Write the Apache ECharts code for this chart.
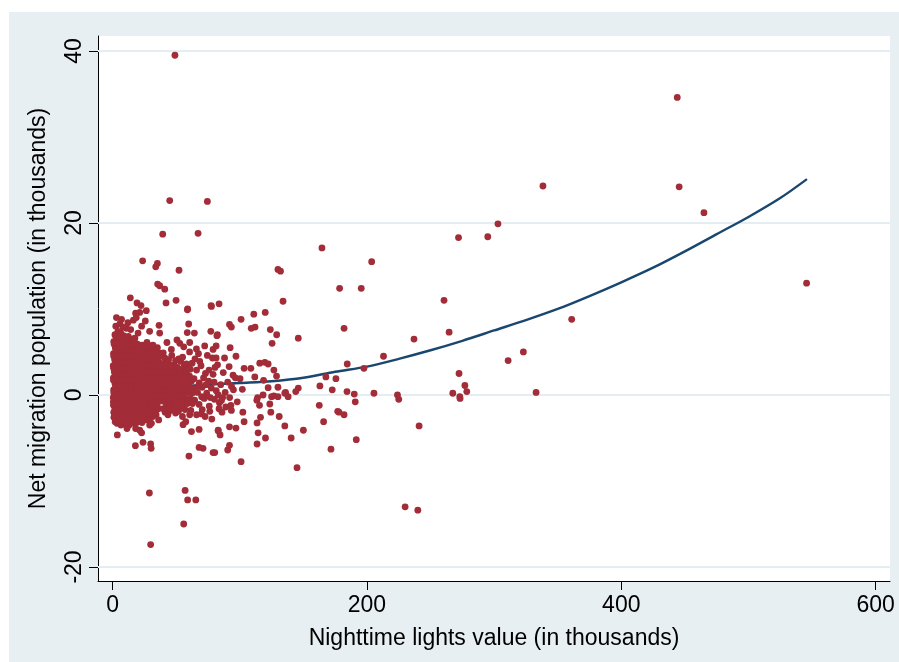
<!DOCTYPE html>
<html><head><meta charset="utf-8">
<script src="https://cdn.jsdelivr.net/npm/echarts@6/dist/echarts.min.js"></script>
<style>html,body{margin:0;padding:0;background:#fff}#c{width:899px;height:662px}</style>
</head><body><div id="c"></div>
<script>
// Tick labels
const xTicks = [0, 200, 400, 600];
const yTicks = [-20, 0, 20, 40];

// [nighttime lights (thousands), net migration (thousands)]
const coreDistricts = [
[4.2,7.4],[6.3,7.25],[10.8,7.75],[14.2,7.6],[1.8,7.0],[8.5,6.9],[12.4,6.8],[16.0,6.5],
[0.9,6.2],[3.6,6.4],[6.8,6.1],[9.7,6.3],[13.1,6.0],[16.4,6.2],
[2.1,5.5],[5.0,5.7],[8.1,5.4],[11.2,5.6],[14.6,5.3],[18.0,5.5],
[0.7,4.8],[3.3,5.0],[6.2,4.7],[9.4,4.9],[12.5,4.6],[15.8,4.8],
[1.6,4.1],[4.7,4.3],[7.6,4.0],[10.6,4.2],[13.9,4.1],[17.2,4.3],
[0.5,3.4],[2.9,3.6],[5.8,3.3],[8.9,3.5],[12.0,3.4],[15.1,3.6],
[1.3,2.7],[4.4,2.9],[7.2,2.6],[10.2,2.8],[13.4,2.7],[16.6,2.9],
[0.6,2.0],[3.1,2.2],[6.0,1.9],[9.1,2.1],[12.3,2.0],[15.5,2.2],
[1.9,1.3],[4.9,1.5],[7.9,1.2],[11.0,1.4],[14.2,1.3],[17.4,1.5],
[0.8,0.6],[3.7,0.8],[6.6,0.5],[9.8,0.7],[13.0,0.6],[16.2,0.8],
[1.5,-0.1],[4.3,0.1],[7.4,-0.2],[10.5,0.0],[13.7,-0.1],[17.0,0.1],
[0.6,-0.8],[3.2,-0.6],[6.1,-0.9],[9.3,-0.7],[12.6,-0.8],[15.9,-0.6],
[1.8,-1.5],[4.8,-1.3],[7.8,-1.6],[11.1,-1.4],[14.4,-1.5],[17.6,-1.3],
[0.9,-2.0],[3.9,-2.2],[6.9,-2.0],[10.0,-2.3],[13.3,-2.1],[16.5,-2.2],
[2.3,-2.7],[5.4,-2.9],[8.6,-2.7],[11.8,-2.8],[15.0,-2.9],[1.0,-2.6],[0.7,-1.2],[0.5,-0.3],
[3.4,-3.3],[6.5,-3.5],[9.6,-3.4],[12.8,-3.5],
[2.5,8.0],[5.8,8.3],[8.0,7.9],[12.0,8.4],[3.0,9.0],[7.0,8.8]
];
const coreInfill = [
[2.7,6.7],[5.5,6.6],[8.2,6.5],[11.6,6.7],[14.8,6.4],[17.5,6.6],
[1.2,5.9],[4.0,6.0],[7.1,5.8],[10.3,5.9],[13.5,5.7],[16.9,5.8],
[2.6,5.2],[5.6,5.3],[8.8,5.1],[11.9,5.2],[15.1,5.0],[18.4,5.1],
[0.9,4.5],[4.0,4.6],[7.0,4.4],[10.1,4.5],[13.2,4.3],[16.5,4.5],
[2.2,3.8],[5.2,3.9],[8.3,3.7],[11.4,3.8],[14.6,3.7],[17.9,3.9],
[0.8,3.1],[3.5,3.2],[6.7,3.0],[9.6,3.1],[12.8,3.0],[16.0,3.2],
[2.0,2.4],[5.1,2.5],[8.1,2.3],[11.3,2.4],[14.5,2.3],[17.7,2.5],
[0.7,1.7],[3.6,1.8],[6.8,1.6],[10.1,1.7],[13.2,1.6],[16.3,1.8],
[2.4,1.0],[5.4,1.1],[8.5,0.9],[11.6,1.0],[14.9,0.9],[18.0,1.1],
[0.9,0.3],[3.0,0.4],[6.0,0.2],[9.0,0.3],[12.1,0.2],[15.3,0.4],
[2.2,-0.4],[5.5,-0.3],[8.5,-0.5],[11.7,-0.4],[14.9,-0.5],[18.2,-0.3],
[1.1,-1.1],[4.1,-1.0],[7.0,-1.2],[10.2,-1.1],[13.4,-1.2],[16.7,-1.0],
[2.5,-1.8],[5.7,-1.7],[8.9,-1.9],[12.0,-1.8],[15.2,-1.9],[18.3,-1.7],
[1.5,-2.4],[4.6,-2.5],[7.6,-2.3],[10.9,-2.5],[14.1,-2.4],[17.3,-2.6],
[2.0,-3.1],[5.0,-3.2],[8.0,-3.0],[11.0,-3.2],[14.0,-3.1],[16.8,-3.3]
];
const innerRing = [
[19.5,5.9],[23.2,5.8],[27.0,6.1],[30.5,5.7],
[18.7,5.1],[22.1,5.3],[25.8,5.0],[29.4,5.2],[33.1,5.1],[36.5,4.9],
[20.3,4.4],[23.9,4.6],[27.6,4.3],[31.2,4.5],[34.8,4.4],
[18.5,3.7],[22.0,3.9],[25.5,3.6],[29.0,3.8],[32.6,3.7],[36.2,3.9],
[20.1,3.0],[23.6,3.2],[27.2,2.9],[30.8,3.1],[34.4,3.0],[38.0,3.2],
[18.9,2.3],[22.4,2.5],[26.0,2.2],[29.6,2.4],[33.2,2.3],[36.9,2.5],
[20.6,1.6],[24.2,1.8],[27.8,1.5],[31.4,1.7],[35.0,1.6],[38.6,1.8],
[18.3,0.9],[21.8,1.1],[25.4,0.8],[29.0,1.0],[32.7,0.9],[36.4,1.1],
[20.0,0.2],[23.5,0.4],[27.1,0.1],[30.7,0.3],[34.3,0.2],[38.1,0.4],
[18.6,-0.5],[22.2,-0.3],[25.8,-0.6],[29.4,-0.4],[33.0,-0.5],[36.7,-0.3],
[20.4,-1.2],[24.0,-1.0],[27.6,-1.3],[31.2,-1.1],[34.9,-1.2],
[18.8,-1.9],[22.5,-1.7],[26.1,-2.0],[29.8,-1.8],[33.5,-1.9],
[20.7,-2.6],[24.4,-2.4],[28.1,-2.7],[31.6,-2.5],[19.0,-3.2],[22.9,-3.0]
];
const innerInfill = [
[21.0,5.6],[24.6,5.4],[28.3,5.6],[31.9,5.4],[35.2,5.5],
[19.4,4.8],[23.0,4.9],[26.7,4.7],[30.3,4.8],[33.9,4.7],[37.5,4.6],
[21.2,4.1],[24.8,4.2],[28.4,4.0],[32.0,4.1],[35.6,4.2],
[19.3,3.4],[22.8,3.5],[26.4,3.3],[30.0,3.4],[33.6,3.3],[37.2,3.5],
[21.4,2.7],[25.0,2.8],[28.6,2.6],[32.2,2.7],[35.8,2.6],
[19.6,2.0],[23.2,2.1],[26.9,1.9],[30.5,2.0],[34.1,1.9],[37.7,2.1],
[21.3,1.3],[24.9,1.4],[28.5,1.2],[32.1,1.3],[35.8,1.2],
[19.2,0.6],[22.7,0.7],[26.3,0.5],[29.9,0.6],[33.5,0.5],[37.2,0.7],
[21.1,-0.1],[24.7,0.0],[28.3,-0.2],[31.9,-0.1],[35.5,-0.2],
[19.5,-0.8],[23.1,-0.7],[26.7,-0.9],[30.3,-0.8],[33.9,-0.9],[37.5,-0.7],
[21.6,-1.5],[25.2,-1.4],[28.8,-1.6],[32.4,-1.5],[36.0,-1.6],
[19.8,-2.2],[23.4,-2.1],[27.0,-2.3],[30.6,-2.2],[34.2,-2.3],
[21.8,-2.8],[25.6,-2.9],[29.0,-3.0]
];
const middleRing = [
[41.0,4.3],[46.5,4.6],[52.0,4.2],
[39.5,3.6],[43.4,3.8],[48.2,3.5],[53.5,3.9],[58.0,3.6],
[41.5,2.9],[45.3,3.1],[49.6,2.8],[55.0,3.0],
[40.2,2.2],[44.0,2.4],[47.8,2.1],[51.7,2.3],[56.5,2.4],[60.5,2.2],
[42.1,1.5],[46.0,1.7],[50.0,1.4],[54.2,1.6],[58.4,1.5],
[40.5,0.8],[44.3,1.0],[48.3,0.7],[52.5,0.9],[56.8,1.0],[61.5,0.8],
[42.4,0.1],[46.4,0.3],[50.6,0.0],[54.8,0.2],[59.2,0.3],
[40.7,-0.6],[44.6,-0.4],[48.8,-0.7],[53.1,-0.5],[57.6,-0.6],
[42.8,-1.3],[46.9,-1.1],[51.2,-1.4],[55.6,-1.2],
[41.3,-2.0],[45.5,-1.8],[49.5,-2.1]
];
const middleInfill = [
[39.8,4.9],[44.0,4.1],[49.5,4.0],[55.0,4.4],
[41.9,3.3],[46.1,3.4],[51.0,3.2],[56.2,3.3],[60.0,3.1],
[39.2,2.6],[43.3,2.7],[47.6,2.6],[52.8,2.7],[58.3,2.8],
[41.2,1.9],[44.9,2.0],[49.0,1.8],[53.2,1.9],[57.4,2.0],[62.0,1.6],
[39.4,1.2],[43.6,1.3],[47.2,1.1],[51.4,1.2],[55.5,1.3],[59.8,1.1],
[41.3,0.5],[45.4,0.6],[49.4,0.4],[53.7,0.5],[57.9,0.6],[62.5,0.2],
[39.6,-0.2],[43.5,-0.1],[47.7,-0.3],[51.9,-0.2],[56.2,-0.1],[60.8,-0.4],
[41.6,-0.9],[45.7,-0.8],[50.0,-1.0],[54.3,-0.9],[58.8,-1.0],
[39.9,-1.6],[44.2,-1.5],[48.1,-1.7],[52.5,-1.6],[56.9,-1.7]
];
const outerRing = [
[62.5,3.7],[66.0,2.9],[69.5,3.4],[73.0,2.5],[64.0,1.9],[68.2,1.4],[71.5,2.0],[75.5,1.6],[79.0,2.4],
[63.0,0.7],[66.8,0.3],[70.4,0.9],[74.0,0.2],[77.6,0.8],[81.5,0.5],[85.0,1.2],[88.5,0.3],
[64.5,-0.6],[68.0,-1.1],[72.0,-0.4],[76.0,-1.3],[80.0,-0.5],[84.0,-0.9],[61.5,-1.8],[66.0,-2.3],[70.5,-1.7],
[90.5,1.5],[95.0,0.6],[98.0,-0.8],[87.0,2.6],[92.0,-0.3],[82.5,3.5],[78.5,4.3],[74.5,4.6],[67.5,4.8],[60.5,5.0],
[61.0,3.0],[64.8,4.2],[67.0,1.0],[70.0,-0.2],[73.5,1.2],[76.8,-0.3],[79.8,1.5],[83.0,0.0],[86.5,-0.3],
[89.0,-1.4],[93.5,1.0],[96.5,2.0],[62.8,-1.0],[72.7,-2.5],[78.0,-2.8],[86.0,-2.0],[80.5,3.2],[88.0,4.3],[97.0,4.5]
];
const upperSpread = [
[49,39.5],[44.9,22.6],[74.5,22.5],[39.4,18.7],[67.2,18.8],[23.6,15.6],[35.2,15.3],[33.9,14.9],[52.2,14.5],
[35.4,12.9],[37,12.7],[41,12.3],[13.9,11.3],[19.2,10.7],[22.3,10.4],[42,10.7],[49.9,11.0],[77.4,10.4],[83.7,10.6],[59,10],
[21.3,9.6],[18.1,9.5],[26.5,9.8],[16.3,8.7],[18.6,9.0],[25.7,8.6],[22.8,8.0],[36.5,8.1],[58.8,9.9],[59.8,8.25],[77.7,10.3],
[64.3,7.2],[77.2,7.4],[82.4,7.0],[42.7,6.1],[52.8,6.0],[60.6,6.1],[55.9,5.6],[65.9,5.35],[72.4,5.7],[79,5.3],[68.5,3.9],
[75.8,2.9],[31.7,5.8],[37,7.2],[29.1,7.4],[17.8,6.0],[20,7.2],[58.7,7.25],[50.6,6.4],[46.2,5.3]
];
const lowerSpread = [
[28.9,-11.4],[57,-11.1],[59,-12.2],[65.4,-12.2],[55.9,-15.0],[29.9,-17.4],[3.7,-4.65],[17.9,-5.9],[23.9,-5.5],
[29.9,-5.7],[30.3,-6.2],[60,-7.1],[68,-6.1],[71.1,-6.2],[79,-6.7],[68,-4.0],[62,-4.25],[12.8,-3.5],[11.3,-3.9],
[18.1,-3.9],[21.3,-4.1],[22.8,-4.4],[23.1,-3.2],[29.1,-3.5],[30.5,-3.3],[36.2,-2.9],[43.5,-2.3],[51.7,-1.9],
[54.9,-2.5],[57.5,-3.1],[60.6,-2.3],[69.8,-2.2],[76.4,-1.9],[83,-4.1],[55.4,-3.45]
];
const midSpread = [
[203.7,15.5],[178.5,12.4],[195.5,12.4],[182,7.75],[184.5,3.6],[197.6,3.1],[175.6,1.9],[172.7,0.6],[184.3,0.4],
[190,0.1],[190.8,-0.8],[205.5,0.2],[177,-1.9],[178,-2.0],[182,-2.3],[191.6,-5.2],[171.7,-6.3],[164.6,17.1],
[130,14.6],[132,14.4],[134,10.9],[111,9.4],[120,9.6],[101,8.8],[91.9,8.2],[93.4,7.9],[109,7.75],[112,7.9],
[124,7.6],[129,7.0],[146,6.6],[125.4,6.0],[82,6.9],[92.4,5.5],[81.4,5.7],[81.4,4.3],[115.7,3.7],[119.7,3.8],
[122.3,3.6],[91.6,3.3],[103.4,3.1],[108.7,3.1],[126.8,2.9],[128.9,2.2],[94.7,2.3],[100.2,1.9],[111.8,2.1],
[118.7,1.7],[167.7,2.1],[122.3,0.85],[130,0.9],[126.8,-0.1],[136,0.3],[146,0.8],[144,0.4],[163,1.05],[114,-0.3],
[138,-0.2],[102,0.66],[162.5,-1.2],[165.9,-3.1],[145,-8.45],[101,-7.75],[113.6,-5.7],[90.5,-6.4],[91.9,-5.85],
[83,-4.15],[84.5,-4.65],[91.9,-3.7],[97,-3.85],[103.4,-3.1],[102.4,-2.0],[113.6,-3.25],[116.3,-2.6],[114.4,-4.4],
[120.2,-5.0],[124.4,-2.0],[131,-2.5],[135.4,-3.6],[140.4,-5.0],[150,-4.1],[83.7,-1.6],[93.4,-1.8],[93,-1.2],
[85.6,-0.65],[80.3,-6.7],[115.5,-1.2],[123.6,-1.05],[125,-0.2],[130,-0.2],[135.4,0.2],[113.4,-0.6],[118.3,0]
];
const farSpread = [
[444,34.6],[445.5,24.2],[338.4,24.3],[465,21.2],[545.7,13.0],[303,19.9],[295,18.4],[272,18.3],[361,8.8],
[260.6,11.0],[264.6,7.3],[237,6.5],[213,4.5],[323,5.0],[311,4.0],[333,0.3],[230,-13.0],[240,-13.4],[241,-3.6],
[224,0],[225,-0.5],[272.4,2.5],[277,1.1],[278.5,0.4],[267.5,0.2],[273,-0.2],[273.2,-0.4]
];
// Quadratic fit line
const fitCurve = [
[0,1.0],[25,1.0],[50,1.0],[75,1.2],[100,1.4],[125,1.6],[150,2.0],[175,2.7],[200,3.3],[225,4.2],[250,5.2],
[275,6.3],[300,7.5],[325,8.7],[350,10.0],[375,11.5],[400,13.1],[425,14.8],[450,16.7],[475,18.7],[500,20.7],
[525,22.9],[546,25.1]
];

const FONT = "'Liberation Sans', Arial, sans-serif";
const BG = '#e8eff2';
const allPoints = [].concat(coreDistricts, coreInfill, innerRing, innerInfill, middleRing, middleInfill,
  outerRing, upperSpread, lowerSpread, midSpread, farSpread);

const chart = echarts.init(document.getElementById('c'), null, {renderer: 'canvas'});
chart.setOption({
  animation: false,
  backgroundColor: BG,
  graphic: [
    {type: 'rect', shape: {x: 0, y: 0, width: 899, height: 12}, style: {fill: '#fff'}, silent: true},
    {type: 'rect', shape: {x: 0, y: 0, width: 9, height: 662}, style: {fill: '#fff'}, silent: true}
  ],
  grid: {left: 98, top: 36, width: 792, height: 545, show: true, backgroundColor: '#fff', borderWidth: 0, containLabel: false, outerBoundsMode: 'none'},
  xAxis: {
    type: 'value', min: -11.5, max: 611.3,
    name: 'Nighttime lights value (in thousands)', nameLocation: 'middle', nameGap: 46,
    nameTextStyle: {fontSize: 23, color: '#000', fontFamily: FONT},
    axisLine: {show: true, onZero: false, lineStyle: {color: '#000', width: 1}},
    axisTick: {show: true, length: 9, customValues: xTicks, lineStyle: {color: '#000', width: 1}},
    axisLabel: {customValues: xTicks, margin: 13, fontSize: 23, color: '#000', fontFamily: FONT},
    splitLine: {show: false}
  },
  yAxis: {
    type: 'value', min: -21.63, max: 41.74,
    name: 'Net migration population (in thousands)', nameLocation: 'middle', nameGap: 48, nameRotate: 90,
    nameTextStyle: {fontSize: 23, color: '#000', fontFamily: FONT},
    axisLine: {show: true, onZero: false, lineStyle: {color: '#000', width: 1}},
    axisTick: {show: true, length: 9, customValues: yTicks, lineStyle: {color: '#000', width: 1}},
    axisLabel: {customValues: yTicks, rotate: 90, margin: 12, fontSize: 23, color: '#000', fontFamily: FONT},
    splitLine: {show: false}
  },
  series: [
    {
      type: 'line', data: [], silent: true, z: 1,
      markLine: {
        silent: true, z: 1, symbol: ['none', 'none'], label: {show: false},
        lineStyle: {color: '#e4edf1', width: 2, type: 'solid'},
        data: yTicks.map(v => ({yAxis: v}))
      }
    },
    {
      type: 'line', data: fitCurve, showSymbol: false, smooth: 0.3, silent: true, z: 2,
      lineStyle: {color: '#1a476f', width: 2.4}
    },
    {
      type: 'scatter', data: allPoints, symbol: 'circle', symbolSize: 6.8, silent: true, z: 4,
      itemStyle: {color: '#a22c37', opacity: 1}
    }
  ]
});
</script>
</body></html>
